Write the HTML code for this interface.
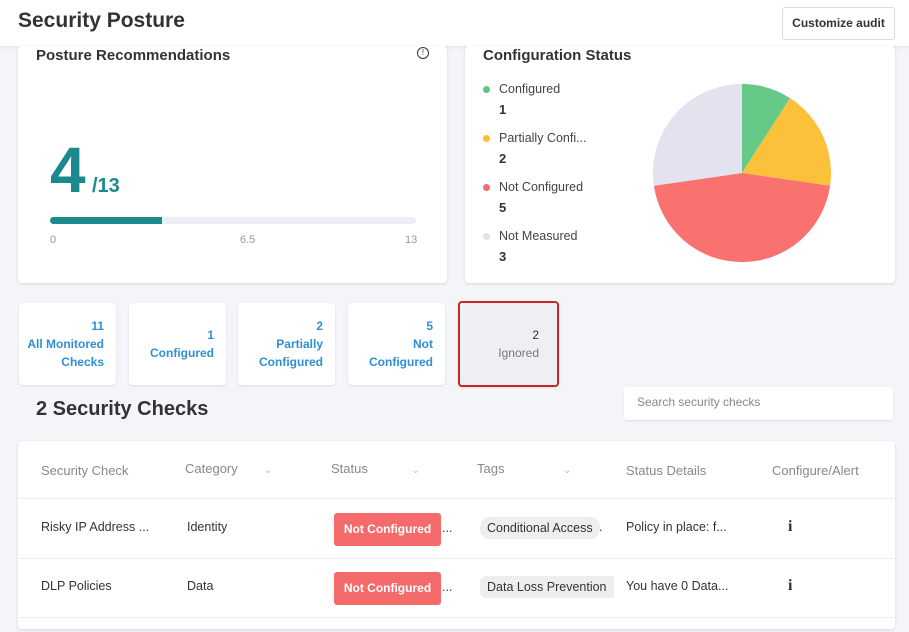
<!DOCTYPE html>
<html><head><style>
body{margin:0;width:909px;height:632px;background:#f4f5f8;font-family:"Liberation Sans",sans-serif;position:relative;overflow:hidden;color:#333}
.a{position:absolute}
.card{position:absolute;background:#fff;border-radius:4px;box-shadow:0 1px 3px rgba(0,0,0,.12)}
.tile{position:absolute;top:303px;width:97px;height:82px;background:#fff;border-radius:4px;box-shadow:0 1px 2px rgba(0,0,0,.1);color:#2f8fd6;font-size:12px;font-weight:bold;text-align:right;box-sizing:border-box;padding-right:12px;line-height:18px;display:flex;flex-direction:column;justify-content:center}
.th{position:absolute;top:463px;font-size:13px;color:#888}
.td{position:absolute;font-size:12.5px;color:#333}
.badge{position:absolute;left:334px;width:107px;height:33px;background:#f56b6b;color:#fff;font-size:12px;font-weight:bold;text-align:center;line-height:33px;border-radius:3px}
.tag{position:absolute;left:480px;height:22px;line-height:22px;padding:0 7px;background:#eee;border-radius:10px;font-size:12.5px}
.leg{position:absolute;left:483px;font-size:12.5px;color:#444}
.leg b{display:block;margin-top:6px;font-size:13px;color:#333;margin-left:16px}
.dot{display:inline-block;width:7px;height:7px;border-radius:50%;margin-right:9px}
</style></head><body>
<div class="a" style="left:0;top:0;width:909px;height:46px;background:#fff;box-shadow:0 2px 3px rgba(0,0,0,.06)"></div>
<div class="a" style="left:18px;top:9px;font-size:21px;font-weight:bold;color:#333">Security Posture</div>
<div class="a" style="left:782px;top:7px;width:111px;height:31px;border:1px solid #ddd;border-radius:3px;background:#fff;font-size:12px;font-weight:bold;text-align:center;line-height:31px">Customize audit</div>

<div class="card" style="left:18px;top:46px;width:429px;height:237px"></div>
<div class="a" style="left:36px;top:47px;font-size:15px;font-weight:bold;color:#333">Posture Recommendations</div>
<div class="a" style="left:417px;top:47px;width:10px;height:10px;border:1.3px solid #333;border-radius:50%;font-size:8px;text-align:center;line-height:10px">!</div>
<div class="a" style="left:50px;top:138px;font-size:64px;font-weight:bold;color:#1a8a8f;line-height:64px">4</div>
<div class="a" style="left:92px;top:175px;font-size:20px;font-weight:bold;color:#1a8a8f">/13</div>
<div class="a" style="left:50px;top:217px;width:366px;height:7px;border-radius:4px;background:#eceef3"></div>
<div class="a" style="left:50px;top:217px;width:112px;height:7px;border-radius:4px 0 0 4px;background:#1a8a8f"></div>
<div class="a" style="left:50px;top:234px;font-size:11px;color:#999">0</div>
<div class="a" style="left:240px;top:234px;font-size:11px;color:#999">6.5</div>
<div class="a" style="left:405px;top:234px;font-size:11px;color:#999">13</div>

<div class="card" style="left:465px;top:46px;width:430px;height:237px"></div>
<div class="a" style="left:483px;top:47px;font-size:15px;font-weight:bold;color:#333">Configuration Status</div>
<div class="leg" style="top:82px"><span class="dot" style="background:#5cc87f"></span>Configured<b>1</b></div>
<div class="leg" style="top:131px"><span class="dot" style="background:#fbbf2d"></span>Partially Confi...<b>2</b></div>
<div class="leg" style="top:180px"><span class="dot" style="background:#f56b6b"></span>Not Configured<b>5</b></div>
<div class="leg" style="top:229px"><span class="dot" style="background:#e0e0ee"></span>Not Measured<b>3</b></div>
<svg class="a" style="left:0;top:0" width="909" height="632">
<path d="M742,173 L742,84 A89,89 0 0 1 790.1,98.1Z" fill="#66c987"/>
<path d="M742,173 L790.1,98.1 A89,89 0 0 1 830.1,185.7Z" fill="#fcc13a"/>
<path d="M742,173 L830.1,185.7 A89,89 0 0 1 653.9,185.7Z" fill="#fa7270"/>
<path d="M742,173 L653.9,185.7 A89,89 0 0 1 742,84Z" fill="#e3e2ef"/>
</svg>

<div class="tile" style="left:19px"><div>11</div><div>All Monitored</div><div>Checks</div></div>
<div class="tile" style="left:129px"><div>1</div><div>Configured</div></div>
<div class="tile" style="left:238px"><div>2</div><div>Partially</div><div>Configured</div></div>
<div class="tile" style="left:348px"><div>5</div><div>Not</div><div>Configured</div></div>
<div class="tile" style="left:458px;top:301px;width:101px;height:86px;background:#eeeff3;border:2px solid #c9262b;color:#777;font-weight:normal;padding-right:18px"><div style="color:#333">2</div><div>Ignored</div></div>

<div class="a" style="left:36px;top:398px;font-size:20px;font-weight:bold;color:#333">2 Security Checks</div>
<div class="a" style="left:624px;top:387px;width:269px;height:33px;background:#fff;border-radius:3px;box-shadow:0 1px 2px rgba(0,0,0,.08);font-size:12px;color:#888;line-height:31px;box-sizing:border-box;padding-left:13px">Search security checks</div>

<div class="card" style="left:18px;top:441px;width:877px;height:188px"></div>
<div class="a" style="left:18px;top:498px;width:877px;height:1px;background:#eee"></div>
<div class="a" style="left:18px;top:558px;width:877px;height:1px;background:#eee"></div>
<div class="a" style="left:18px;top:617px;width:877px;height:1px;background:#eee"></div>
<div class="th" style="left:41px">Security Check</div>
<div class="th" style="left:185px;top:461px">Category <span style="margin-left:22px;font-size:10px;color:#bbb">⌄</span></div>
<div class="th" style="left:331px;top:461px">Status <span style="margin-left:40px;font-size:10px;color:#bbb">⌄</span></div>
<div class="th" style="left:477px;top:461px">Tags <span style="margin-left:55px;font-size:10px;color:#bbb">⌄</span></div>
<div class="th" style="left:626px">Status Details</div>
<div class="th" style="left:772px">Configure/Alert</div>

<div class="td" style="left:41px;top:520px">Risky IP Address ...</div>
<div class="td" style="left:187px;top:520px">Identity</div>
<div class="badge" style="top:513px">Not Configured</div><div class="td" style="left:442px;top:521px">...</div>
<div class="tag" style="top:517px">Conditional Access</div><div class="td" style="left:599px;top:520px">.</div>
<div class="td" style="left:626px;top:520px">Policy in place: f...</div>
<div class="td" style="left:788px;top:518px;font-weight:bold;font-family:'Liberation Serif',serif;font-size:16px">i</div>

<div class="td" style="left:41px;top:579px">DLP Policies</div>
<div class="td" style="left:187px;top:579px">Data</div>
<div class="badge" style="top:572px">Not Configured</div><div class="td" style="left:442px;top:580px">...</div>
<div class="tag" style="top:576px;border-radius:6px 0 0 6px">Data Loss Prevention</div>
<div class="td" style="left:626px;top:579px">You have 0 Data...</div>
<div class="td" style="left:788px;top:577px;font-weight:bold;font-family:'Liberation Serif',serif;font-size:16px">i</div>
</body></html>
